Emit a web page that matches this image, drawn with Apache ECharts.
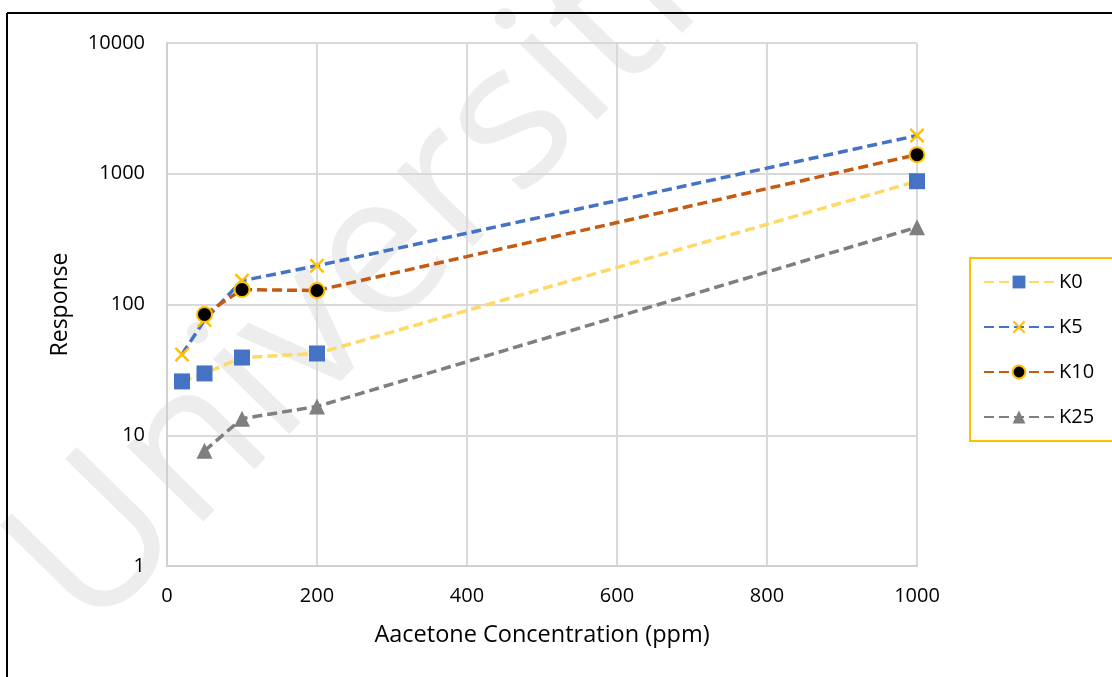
<!DOCTYPE html>
<html>
<head>
<meta charset="utf-8">
<script src="https://cdn.jsdelivr.net/npm/echarts@6/dist/echarts.min.js"></script>
<style>
html,body{margin:0;padding:0;background:#fff;}
#c{width:1112px;height:677px;}
</style>
</head>
<body>
<div id="c"></div>
<script>
const xTicks = [0, 200, 400, 600, 800, 1000];
const yTicks = [1, 10, 100, 1000, 10000];
const seriesNames = ['K0', 'K5', 'K10', 'K25'];
const xK0 = [20, 50, 100, 200, 1000];
const yK0 = [25.8, 29.7, 39.3, 42.2, 877];
const xK5 = [20, 50, 100, 200, 1000];
const yK5 = [41.5, 76, 152, 198, 1960];
const xK10 = [50, 100, 200, 1000];
const yK10 = [84, 130, 128, 1400];
const xK25 = [50, 100, 200, 1000];
const yK25 = [7.6, 13.4, 16.6, 390];

const pair = (xs, ys) => xs.map((x, i) => [x, ys[i]]);
const FONT = 'Open Sans';
const crossPath = 'path://M0,1.6L1.6,0L7,5.4L12.4,0L14,1.6L8.6,7L14,12.4L12.4,14L7,8.6L1.6,14L0,12.4L5.4,7Z';

const chart = echarts.init(document.getElementById('c'), null, {renderer: 'canvas'});
const dash = [10, 5];
const mk = (name, data, lineColor, symbol, size, itemStyle) => ({
  name, type: 'line', data, symbol, symbolSize: size, showSymbol: true,
  lineStyle: {color: lineColor, width: 3.5, type: dash},
  itemStyle: itemStyle,
  emphasis: {disabled: true},
  animation: false, z: 3
});

chart.setOption({
  animation: false,
  backgroundColor: '#fff',
  textStyle: {fontFamily: FONT},
  graphic: [
    {type: 'text', z: -10, x: 120, y: 668, rotation: Math.PI / 4 + 0.01,
      style: {text: 'Universiti Malaya', fontSize: 200, fontFamily: FONT, fill: '#ededed', textVerticalAlign: 'bottom'}},
    {type: 'line', z: 100, shape: {x1: 7, y1: 13, x2: 7, y2: 677}, style: {stroke: '#000', lineWidth: 2}},
    {type: 'line', z: 100, shape: {x1: 7, y1: 13, x2: 1112, y2: 13}, style: {stroke: '#000', lineWidth: 2}}
  ],
  grid: {left: 167, right: 195, top: 43, bottom: 111, containLabel: false},
  xAxis: {
    type: 'value', min: xTicks[0], max: xTicks[xTicks.length - 1], interval: 200,
    name: 'Aacetone Concentration (ppm)', nameLocation: 'middle', nameGap: 57,
    nameTextStyle: {fontSize: 23.5, color: '#000', fontFamily: FONT},
    axisLine: {show: true, lineStyle: {color: '#d0d0d0', width: 2}},
    axisTick: {show: false},
    axisLabel: {fontSize: 20, color: '#000', margin: 20, fontFamily: FONT,
      formatter: v => String(Math.round(v))},
    splitLine: {show: true, lineStyle: {color: '#d9d9d9', width: 2}}
  },
  yAxis: {
    type: 'log', logBase: 10, min: yTicks[0], max: yTicks[yTicks.length - 1],
    name: 'Response', nameLocation: 'middle', nameGap: 95,
    nameTextStyle: {fontSize: 23, color: '#000', fontFamily: FONT},
    axisLine: {show: true, lineStyle: {color: '#d0d0d0', width: 2}},
    axisTick: {show: false},
    axisLabel: {fontSize: 20, color: '#000', margin: 22, fontFamily: FONT,
      formatter: v => String(Math.round(v))},
    splitLine: {show: true, lineStyle: {color: '#d9d9d9', width: 2}}
  },
  legend: {
    orient: 'vertical', left: 970, top: 258,
    data: seriesNames,
    itemWidth: 70, itemHeight: 16, itemGap: 25,
    padding: [14, 12, 14, 13],
    width: 138,
    borderColor: '#FFC000', borderWidth: 2,
    textStyle: {fontSize: 20, color: '#000', fontFamily: FONT, lineHeight: 20, width: 48},
    selectedMode: false
  },
  series: [
    mk('K0', pair(xK0, yK0), '#FFD966', 'rect', 16, {color: '#4472C4'}),
    mk('K5', pair(xK5, yK5), '#4472C4', crossPath, 15, {color: '#FFC000'}),
    mk('K10', pair(xK10, yK10), '#C55A11', 'circle', 15, {color: '#000', borderColor: '#FFC000', borderWidth: 2}),
    mk('K25', pair(xK25, yK25), '#7F7F7F', 'triangle', 16, {color: '#7F7F7F'})
  ]
});
</script>
</body>
</html>
